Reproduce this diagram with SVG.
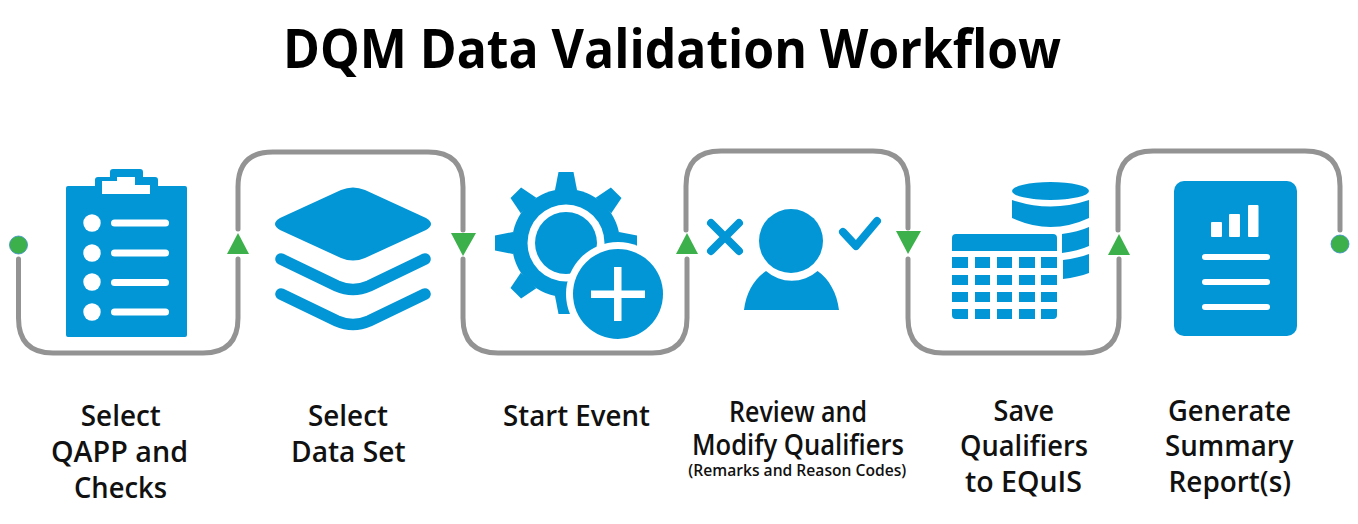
<svg xmlns="http://www.w3.org/2000/svg" width="1358" height="524" viewBox="0 0 1358 524">
<style>
.ic{fill:#0296d6}
.wh{fill:#fff}
.ln{fill:none;stroke:#939393;stroke-width:5;stroke-linecap:round}
.tri{fill:#3cb04a}
.dot{fill:#3cb04a;stroke:#3a8fc8;stroke-width:.8}
.t{font-family:"Open Sans","Noto Sans",sans-serif;font-weight:600;font-size:28px;fill:#111;text-anchor:middle}
.s{font-family:"Open Sans","Noto Sans",sans-serif;font-weight:600;font-size:15.500px;fill:#111;text-anchor:middle}
.h{font-family:"Open Sans","Noto Sans",sans-serif;font-weight:700;font-size:53px;fill:#000;text-anchor:middle}
.st{stroke:#0296d6;fill:none;stroke-linecap:round;stroke-linejoin:round}
</style>
<rect width="1358" height="524" fill="#fff"/>
<text class="h" x="672" y="67.500" textLength="778" lengthAdjust="spacingAndGlyphs">DQM Data Validation Workflow</text>
<g id="connectors">
<path class="ln" d="M18.500 259V318Q18.500 353 53 353H203Q238 353 238 318V259"/>
<path class="ln" d="M238 229V187Q238 152 273 152H428Q463 152 463 187V230"/>
<path class="ln" d="M463 259V318Q463 353 498 353H652Q687 353 687 318V259"/>
<path class="ln" d="M686 230V186Q686 151 721 151H873Q908 151 908 186V228"/>
<path class="ln" d="M908 259V318Q908 353 943 353H1084Q1119 353 1119 318V259"/>
<path class="ln" d="M1118 230V186Q1118 151 1153 151H1305Q1340 151 1340 186V230"/>
<circle class="dot" cx="18.500" cy="245" r="9"/>
<circle class="dot" cx="1340" cy="244" r="9"/>
<polygon class="tri" points="238,233 227,254 249,254"/>
<polygon class="tri" points="451,233 476,233 463,256"/>
<polygon class="tri" points="687,233 676,254 698,254"/>
<polygon class="tri" points="896,231 921,231 908,254"/>
<polygon class="tri" points="1119,234 1108,255 1130,255"/>
</g>
<g id="node-qapp">
<path class="ic" d="M68 186H95V180Q95 177 98 177H110V172Q110 169 113 169H140Q143 169 143 172V177H155Q158 177 158 180V186H185Q187 186 187 188V335Q187 337 185 337H68Q66 337 66 335V188Q66 186 68 186Z"/>
<path class="wh" d="M102 194V181H117V177H135V185H150V194Z"/>
<g class="wh">
<circle cx="92" cy="223" r="8.700"/><circle cx="92" cy="253" r="8.700"/><circle cx="92" cy="282" r="8.700"/><circle cx="92" cy="312" r="8.700"/>
<rect x="111" y="219.500" width="58" height="7" rx="3.500"/><rect x="111" y="249.500" width="58" height="7" rx="3.500"/><rect x="111" y="279" width="58" height="7" rx="3.500"/><rect x="111" y="308.500" width="58" height="7" rx="3.500"/>
</g>
<text class="t" x="120.800" y="426" textLength="80" lengthAdjust="spacingAndGlyphs">Select</text>
<text class="t" x="119.500" y="462" textLength="137" lengthAdjust="spacingAndGlyphs">QAPP and</text>
<text class="t" x="120.500" y="498" textLength="93" lengthAdjust="spacingAndGlyphs">Checks</text>
</g>
<g id="node-dataset">
<path class="ic" d="M341 190Q353 185 365 190L426 218Q436 224 426 230L365 258Q353 263 341 258L280 230Q270 224 280 218Z"/>
<path class="st" stroke-width="11.500" d="M281 259L337 286Q353 293 369 286L425 259"/>
<path class="st" stroke-width="11.500" d="M281 294L337 321Q353 328 369 321L425 294"/>
<text class="t" x="348" y="426" textLength="80" lengthAdjust="spacingAndGlyphs">Select</text>
<text class="t" x="348.300" y="462" textLength="114.500" lengthAdjust="spacingAndGlyphs">Data Set</text>
</g>
<g id="node-event">
<g class="ic">
<circle cx="566" cy="243" r="54"/>
<polygon points="555,190 558.500,172 573.500,172 577,190"/>
<polygon points="555,190 558.500,172 573.500,172 577,190" transform="rotate(45 566 243)"/>
<polygon points="555,190 558.500,172 573.500,172 577,190" transform="rotate(90 566 243)"/>
<polygon points="555,190 558.500,172 573.500,172 577,190" transform="rotate(180 566 243)"/>
<polygon points="555,190 558.500,172 573.500,172 577,190" transform="rotate(225 566 243)"/>
<polygon points="555,190 558.500,172 573.500,172 577,190" transform="rotate(270 566 243)"/>
<polygon points="555,190 558.500,172 573.500,172 577,190" transform="rotate(315 566 243)"/>
</g>
<circle class="wh" cx="566" cy="243" r="38.500"/>
<circle class="ic" cx="566" cy="243" r="31"/>
<circle class="wh" cx="618" cy="294" r="52"/>
<circle class="ic" cx="618" cy="294" r="45"/>
<rect class="wh" x="591" y="290.500" width="54" height="7.500"/>
<rect class="wh" x="614" y="267" width="7.500" height="54"/>
<text class="t" x="576.500" y="426" textLength="147" lengthAdjust="spacingAndGlyphs">Start Event</text>
</g>
<g id="node-review">
<circle class="ic" cx="791" cy="241" r="32"/>
<path class="ic" d="M744 310C746 293 754 279 766 271A39 39 0 0 0 817.600 271C829 279 837 293 839 310Z"/>
<path class="st" stroke-width="8" d="M711 223L739 251M739 223L711 251"/>
<path class="st" stroke-width="8" d="M843 232L856 246L877 221"/>
<text class="t" x="798" y="422" textLength="138" lengthAdjust="spacingAndGlyphs">Review and</text>
<text class="t" x="798" y="455" textLength="212" lengthAdjust="spacingAndGlyphs">Modify Qualifiers</text>
<text class="s" x="797.300" y="475.500" textLength="218" lengthAdjust="spacingAndGlyphs">(Remarks and Reason Codes)</text>
</g>
<g id="node-save">
<g class="ic">
<ellipse cx="1050.500" cy="191" rx="38.500" ry="9"/>
<path d="M1012 200Q1050.500 213 1089 200V218Q1050.500 236 1012 218Z"/>
<path d="M1062 234Q1078 232 1089 227V246Q1078 251 1062 253Z"/>
<path d="M1063 260Q1078 258 1089 254V273Q1078 277 1063 279Z"/>
<path d="M952 251V238Q952 234 956 234H1053Q1057 234 1057 238V251Z"/>
<rect x="952" y="257" width="16" height="11"/><rect x="975" y="257" width="15" height="11"/><rect x="997" y="257" width="15" height="11"/><rect x="1019" y="257" width="16" height="11"/><rect x="1041" y="257" width="16" height="11"/>
<rect x="952" y="275" width="16" height="10"/><rect x="975" y="275" width="15" height="10"/><rect x="997" y="275" width="15" height="10"/><rect x="1019" y="275" width="16" height="10"/><rect x="1041" y="275" width="16" height="10"/>
<rect x="952" y="292" width="16" height="10"/><rect x="975" y="292" width="15" height="10"/><rect x="997" y="292" width="15" height="10"/><rect x="1019" y="292" width="16" height="10"/><rect x="1041" y="292" width="16" height="10"/>
<path d="M952 309H968V319H956Q952 319 952 315Z"/><rect x="975" y="309" width="15" height="10"/><rect x="997" y="309" width="15" height="10"/><rect x="1019" y="309" width="16" height="10"/><path d="M1041 309H1057V315Q1057 319 1053 319H1041Z"/>
</g>
<text class="t" x="1023.800" y="420.500" textLength="60.500" lengthAdjust="spacingAndGlyphs">Save</text>
<text class="t" x="1024" y="456" textLength="128" lengthAdjust="spacingAndGlyphs">Qualifiers</text>
<text class="t" x="1023.500" y="492" textLength="117" lengthAdjust="spacingAndGlyphs">to EQuIS</text>
</g>
<g id="node-report">
<rect class="ic" x="1174" y="181" width="123" height="155" rx="10"/>
<g class="wh">
<rect x="1211" y="222" width="11" height="15" rx="1"/><rect x="1229" y="214" width="11" height="23" rx="1"/><rect x="1248" y="205" width="10.500" height="32" rx="1"/>
<rect x="1202" y="254" width="68" height="6" rx="3"/><rect x="1202" y="279" width="68" height="6" rx="3"/><rect x="1202" y="304" width="68" height="6" rx="3"/>
</g>
<text class="t" x="1229.500" y="420.500" textLength="123" lengthAdjust="spacingAndGlyphs">Generate</text>
<text class="t" x="1229.300" y="456" textLength="128.500" lengthAdjust="spacingAndGlyphs">Summary</text>
<text class="t" x="1229.800" y="492" textLength="122.500" lengthAdjust="spacingAndGlyphs">Report(s)</text>
</g>
</svg>
